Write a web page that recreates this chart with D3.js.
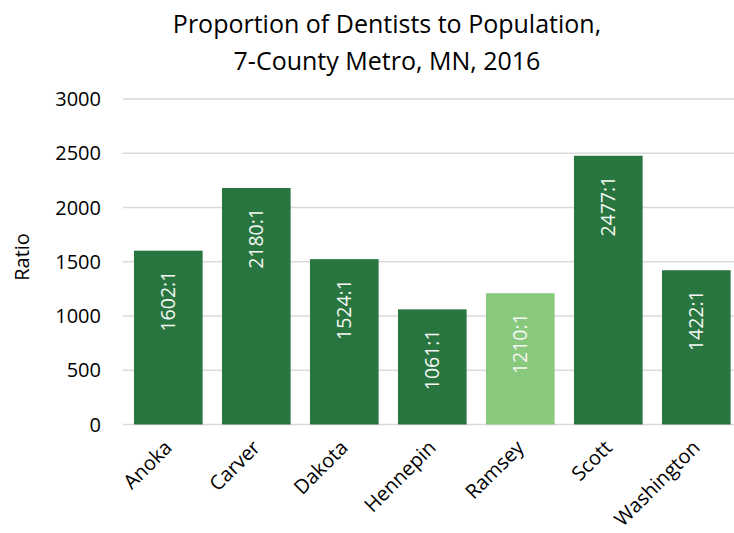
<!DOCTYPE html>
<html><head><meta charset="utf-8">
<script src="https://cdn.jsdelivr.net/npm/d3@7"></script>
<style>body{margin:0;background:#fff;overflow:hidden}svg{display:block}</style>
</head><body>
<svg id="c" width="734" height="533"></svg>
<script>
const categories = ["Anoka","Carver","Dakota","Hennepin","Ramsey","Scott","Washington"];
const values = [1602,2180,1524,1061,1210,2477,1422];
const labels = ["1602:1","2180:1","1524:1","1061:1","1210:1","2477:1","1422:1"];
const highlight = ["Ramsey"];
const yTicks = [0,500,1000,1500,2000,2500,3000];
const titleLines = ["Proportion of Dentists to Population,","7-County Metro, MN, 2016"];
const yTitle = "Ratio";

const FONT = "'Open Sans', sans-serif";
const svg = d3.select("#c");
const x = d3.scaleBand().domain(categories).range([124.3, 740.3]).paddingInner(0.22).paddingOuter(0.11);
const y = d3.scaleLinear().domain([0,3000]).range([424.5, 99]);

// gridlines
svg.append("g").selectAll("line").data(yTicks).join("line")
  .attr("x1",123).attr("x2",734)
  .attr("y1",d=>y(d)).attr("y2",d=>y(d))
  .attr("stroke","#d9d9d9").attr("stroke-width",1.5);

// y tick labels
svg.append("g").selectAll("text").data(yTicks).join("text")
  .attr("x",101).attr("y",d=>y(d)).attr("dy","0.36em")
  .attr("text-anchor","end").attr("font-family",FONT).attr("font-size",20)
  .attr("fill","#000").text(d=>d);

// bars
svg.append("g").selectAll("rect").data(categories).join("rect")
  .attr("x",d=>x(d)).attr("width",x.bandwidth())
  .attr("y",(d,i)=>y(values[i])).attr("height",(d,i)=>y(0)-y(values[i]))
  .attr("fill",d=>highlight.includes(d)?"#88c97d":"#29753f");

// bar labels
svg.append("g").selectAll("text").data(categories).join("text")
  .attr("transform",(d,i)=>`translate(${x(d)+x.bandwidth()/2},${y(values[i])+20}) rotate(-90)`)
  .attr("text-anchor","end").attr("dy","0.35em")
  .attr("font-family",FONT).attr("font-size",19.5).attr("fill","#f4f8f4")
  .text((d,i)=>labels[i]);

// x labels
svg.append("g").selectAll("text").data(categories).join("text")
  .attr("transform",d=>`translate(${x(d)+x.bandwidth()/2-5},${439}) rotate(-45)`)
  .attr("text-anchor","end").attr("dy","0.7em")
  .attr("font-family",FONT).attr("font-size",20).attr("fill","#000")
  .text(d=>d);

// title
svg.append("g").selectAll("text").data(titleLines).join("text")
  .attr("x",387).attr("y",(d,i)=>33+i*37)
  .attr("text-anchor","middle").attr("font-family",FONT).attr("font-size",25)
  .attr("fill","#000").text(d=>d);

// y title
svg.append("text").attr("transform","translate(22,257) rotate(-90)")
  .attr("text-anchor","middle").attr("dy","0.35em")
  .attr("font-family",FONT).attr("font-size",20).attr("fill","#000").text(yTitle);
</script>
</body></html>
